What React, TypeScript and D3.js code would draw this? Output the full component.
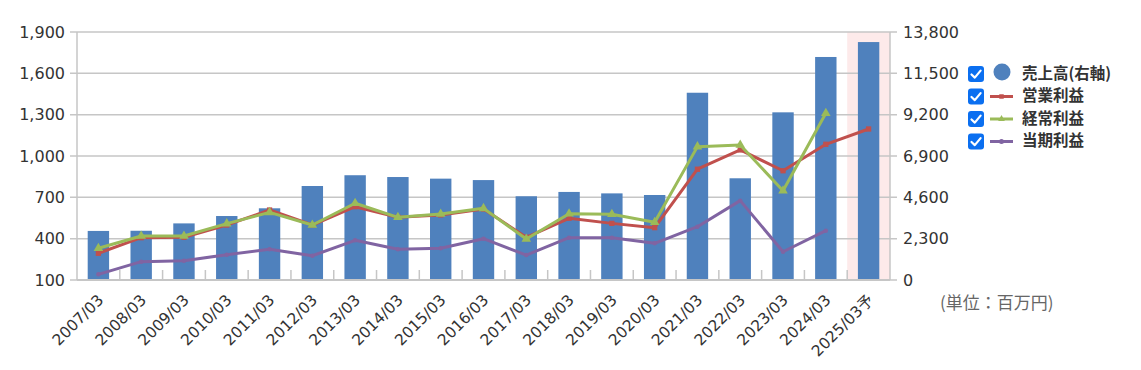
import React from 'react';
import { scaleBand, scaleLinear, line, symbol, symbolSquare, symbolTriangle, symbolCircle } from 'd3';

const categories = [
  '2007/03', '2008/03', '2009/03', '2010/03', '2011/03', '2012/03', '2013/03',
  '2014/03', '2015/03', '2016/03', '2017/03', '2018/03', '2019/03', '2020/03',
  '2021/03', '2022/03', '2023/03', '2024/03', '2025/03予',
];

// 売上高 (right axis)
const sales = [
  2730, 2740, 3150, 3560, 3990, 5230, 5830, 5730, 5640, 5560, 4660, 4900, 4820,
  4730, 10420, 5660, 9330, 12410, 13240,
];
// 営業利益
const operating = [
  294, 407, 410, 499, 608, 499, 632, 555, 572, 615, 410, 548, 511, 480, 904,
  1044, 893, 1085, 1196,
];
// 経常利益
const ordinary: (number | null)[] = [
  330, 419, 419, 509, 591, 499, 657, 555, 579, 620, 398, 581, 577, 519, 1068,
  1080, 748, 1310, null,
];
// 当期利益
const netIncome: (number | null)[] = [
  141, 233, 240, 284, 323, 276, 388, 323, 330, 400, 281, 407, 407, 366, 487,
  676, 305, 458, null,
];

const leftTicks = [100, 400, 700, 1000, 1300, 1600, 1900];
const rightTicks = [0, 2300, 4600, 6900, 9200, 11500, 13800];

const legendItems = [
  { label: '売上高(右軸)', color: '#4f81bd', kind: 'bar' },
  { label: '営業利益', color: '#c0504d', kind: 'square' },
  { label: '経常利益', color: '#9bbb59', kind: 'triangle' },
  { label: '当期利益', color: '#8064a2', kind: 'circle' },
];

const NUM_FONT = "'DejaVu Sans', 'Noto Sans CJK JP', sans-serif";
const JP_FONT = "'Noto Sans CJK JP', sans-serif";
const GRID = '#c6c6c6';
const TEXT = '#333';

const plot = { left: 77, right: 890, top: 32, bottom: 280 };

const shapeOf = (kind: string, size: number) => {
  const t = kind === 'square' ? symbolSquare : kind === 'triangle' ? symbolTriangle : symbolCircle;
  return symbol(t, size)() || '';
};

function CheckBox({ x, y }: { x: number; y: number }) {
  return (
    <g transform={`translate(${x}, ${y})`}>
      <rect width={16} height={16} rx={3} fill="#0b6ff0" />
      <path d="M3.5 8.5 L6.8 11.6 L12.6 4.6" fill="none" stroke="#fff" strokeWidth={2.2} strokeLinecap="round" strokeLinejoin="round" />
    </g>
  );
}

export default function App() {
  const x = scaleBand<string>().domain(categories).range([plot.left, plot.right]).padding(0);
  const yL = scaleLinear().domain([100, 1900]).range([plot.bottom, plot.top]);
  const yR = scaleLinear().domain([0, 13800]).range([plot.bottom, plot.top]);
  const bw = x.bandwidth();
  const cx = (c: string) => (x(c) || 0) + bw / 2;

  const series = [
    { values: operating as (number | null)[], color: '#c0504d', kind: 'square', size: 28 },
    { values: ordinary, color: '#9bbb59', kind: 'triangle', size: 40 },
    { values: netIncome, color: '#8064a2', kind: 'circle', size: 16 },
  ];

  const lineGen = line<[string, number | null]>()
    .defined((d) => d[1] != null)
    .x((d) => cx(d[0]))
    .y((d) => yL(d[1] as number));

  const last = categories[categories.length - 1];

  return (
    <svg width={1141} height={370} style={{ position: 'absolute', left: 0, top: 0, background: '#fff' }}>
      {/* forecast highlight */}
      <rect x={x(last)} y={plot.top} width={plot.right - (x(last) || 0)} height={plot.bottom - plot.top} fill="#fdeaea" />

      {/* grid */}
      {leftTicks.map((t) => (
        <line key={`g-${t}`} x1={plot.left - 7} x2={plot.right + 7} y1={yL(t)} y2={yL(t)} stroke={GRID} strokeWidth={1.5} />
      ))}
      <line x1={plot.left} x2={plot.left} y1={plot.top} y2={plot.bottom} stroke={GRID} strokeWidth={1.5} />
      <line x1={plot.right} x2={plot.right} y1={plot.top} y2={plot.bottom} stroke={GRID} strokeWidth={1.5} />
      {categories.slice(1).map((c) => (
        <line key={`t-${c}`} x1={x(c)} x2={x(c)} y1={plot.bottom - 10} y2={plot.bottom} stroke={GRID} strokeWidth={1.5} />
      ))}

      {/* bars */}
      {sales.map((v, i) => (
        <rect
          key={`bar-${i}`}
          x={(x(categories[i]) || 0) + bw * 0.25}
          y={yR(v)}
          width={bw * 0.5}
          height={plot.bottom - yR(v)}
          fill="#4f81bd"
        />
      ))}
      <line x1={plot.left} x2={plot.right} y1={plot.bottom} y2={plot.bottom} stroke={GRID} strokeWidth={2} />

      {/* lines */}
      {series.map((s, si) => {
        const pts = categories.map((c, i) => [c, s.values[i]] as [string, number | null]);
        return (
          <g key={`s-${si}`}>
            <path d={lineGen(pts) || ''} fill="none" stroke={s.color} strokeWidth={3} strokeLinejoin="round" />
            {pts.filter((p) => p[1] != null).map((p) => (
              <path key={p[0]} d={shapeOf(s.kind, s.size)} transform={`translate(${cx(p[0])}, ${yL(p[1] as number)})`} fill={s.color} />
            ))}
          </g>
        );
      })}

      {/* left axis labels */}
      {leftTicks.map((t) => (
        <text key={`l-${t}`} x={65} y={yL(t)} dy="0.36em" textAnchor="end" fontFamily={NUM_FONT} fontSize={16} fill={TEXT}>
          {t.toLocaleString('en-US')}
        </text>
      ))}
      {/* right axis labels */}
      {rightTicks.map((t) => (
        <text key={`r-${t}`} x={903} y={yR(t)} dy="0.36em" textAnchor="start" fontFamily={NUM_FONT} fontSize={16} fill={TEXT}>
          {t.toLocaleString('en-US')}
        </text>
      ))}
      {/* category labels */}
      {categories.map((c) => (
        <text key={`x-${c}`} transform={`translate(${cx(c) + 6}, ${plot.bottom + 21}) rotate(-45)`} textAnchor="end" fontFamily={NUM_FONT} fontSize={15.5} fill={TEXT}>
          {c}
        </text>
      ))}

      <text x={940} y={303} dy="0.36em" fontFamily={JP_FONT} fontSize={17} fill="#666">(単位：百万円)</text>

      {/* legend */}
      {legendItems.map((it, i) => {
        const cy = 74 + i * 22.5;
        return (
          <g key={it.label}>
            <CheckBox x={968} y={cy - 8} />
            {it.kind === 'bar' ? (
              <circle cx={1002} cy={cy - 2} r={8.5} fill={it.color} />
            ) : (
              <>
                <line x1={990} x2={1013} y1={cy} y2={cy} stroke={it.color} strokeWidth={3} />
                <path d={shapeOf(it.kind, 20)} transform={`translate(1001.5, ${cy})`} fill={it.color} />
              </>
            )}
            <text x={1022} y={cy - 1} dy="0.36em" fontFamily={JP_FONT} fontWeight="bold" fontSize={15.5} fill={TEXT}>
              {it.label}
            </text>
          </g>
        );
      })}
    </svg>
  );
}
